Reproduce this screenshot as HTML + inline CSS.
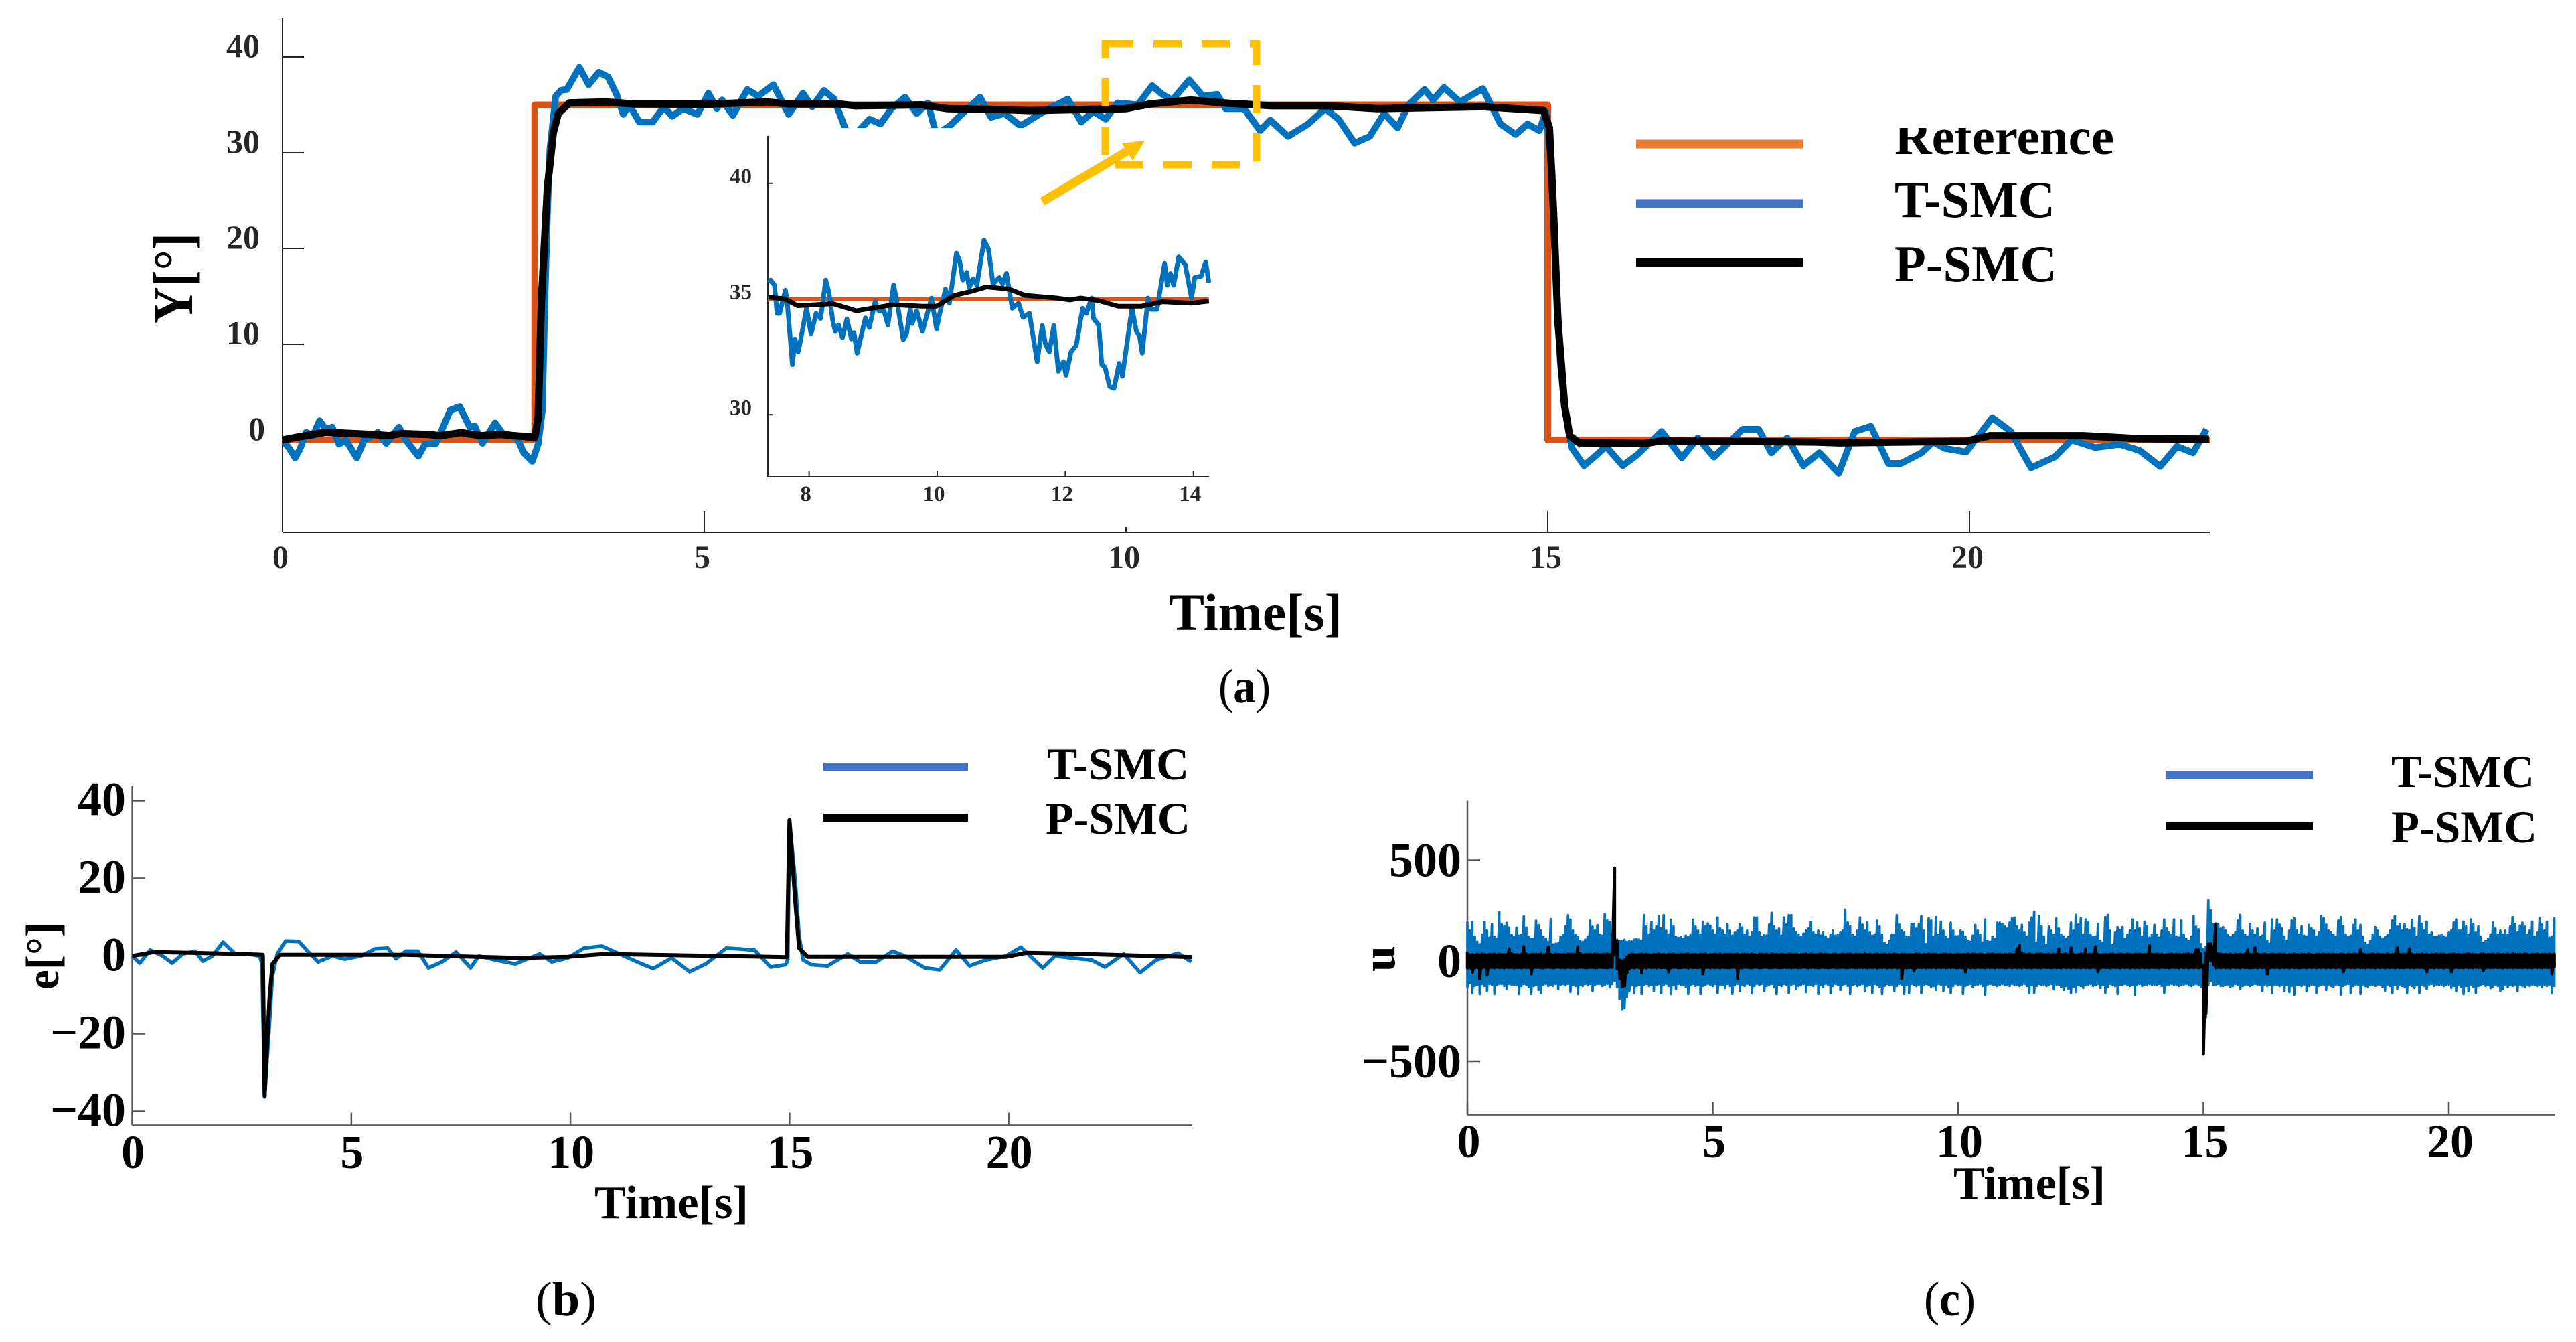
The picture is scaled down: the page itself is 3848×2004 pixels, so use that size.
<!DOCTYPE html>
<html lang="en">
<head>
<meta charset="utf-8">
<title>T-SMC vs P-SMC response charts</title>
<style>
html,body{margin:0;padding:0;background:#fff;}
svg{display:block;}
text{font-family:"Liberation Serif",serif;font-weight:bold;fill:#000;}
tspan.paren{font-weight:normal;}
</style>
</head>
<body>
<svg id="figure" xmlns="http://www.w3.org/2000/svg" width="3848" height="2004" viewBox="0 0 3848 2004">
<rect x="0" y="0" width="3848" height="2004" fill="#fff"/>
<g id="panel-a"></g>
<g id="panel-b"></g>
<g id="panel-c"></g>

<g>
<text transform="translate(287,483) rotate(-90)" font-size="84" textLength="135" lengthAdjust="spacingAndGlyphs">Y[°]</text>
<text x="1746" y="941" font-size="78" textLength="259" lengthAdjust="spacingAndGlyphs">Time[s]</text>
<text x="1820" y="1049" font-size="72" textLength="78" lengthAdjust="spacingAndGlyphs"><tspan class="paren">(</tspan>a<tspan class="paren">)</tspan></text>
<line x1="2444" x2="2693" y1="215" y2="215" stroke="#ED7D31" stroke-width="13"/>
<line x1="2444" x2="2693" y1="304" y2="304" stroke="#4472C4" stroke-width="13"/>
<line x1="2444" x2="2693" y1="392" y2="392" stroke="#000" stroke-width="13"/>
<text x="2830" y="230" font-size="77" textLength="328" lengthAdjust="spacingAndGlyphs">Reference</text>
<rect x="2800" y="150" width="400" height="41" fill="#fff"/>
<text x="2830" y="324" font-size="77" textLength="240" lengthAdjust="spacingAndGlyphs">T-SMC</text>
<text x="2830" y="420" font-size="77" textLength="243" lengthAdjust="spacingAndGlyphs">P-SMC</text>
<rect x="1651" y="65" width="226" height="181" fill="none" stroke="#FFC000" stroke-width="11" stroke-dasharray="42 30"/>
<line x1="1557" y1="301" x2="1690" y2="222" stroke="#FFC000" stroke-width="13"/>
<polygon points="1710,210 1676,214 1692,240" fill="#FFC000"/>
</g>

<g>
<text transform="translate(87,1478) rotate(-90)" font-size="70" textLength="101" lengthAdjust="spacingAndGlyphs">e[°]</text>
<text x="888" y="1819" font-size="70" textLength="230" lengthAdjust="spacingAndGlyphs">Time[s]</text>
<text x="800" y="1964" font-size="72" textLength="91" lengthAdjust="spacingAndGlyphs"><tspan class="paren">(</tspan>b<tspan class="paren">)</tspan></text>
<line x1="1230" x2="1446" y1="1145" y2="1145" stroke="#4472C4" stroke-width="12"/>
<line x1="1230" x2="1446" y1="1221" y2="1221" stroke="#000" stroke-width="12"/>
<text x="1564" y="1164" font-size="68" textLength="212" lengthAdjust="spacingAndGlyphs">T-SMC</text>
<text x="1562" y="1245" font-size="68" textLength="216" lengthAdjust="spacingAndGlyphs">P-SMC</text>
</g>

<g>
<text transform="translate(2083,1451) rotate(-90)" font-size="70">u</text>
<text x="2918" y="1790" font-size="70" textLength="227" lengthAdjust="spacingAndGlyphs">Time[s]</text>
<text x="2874" y="1964" font-size="72" textLength="77" lengthAdjust="spacingAndGlyphs"><tspan class="paren">(</tspan>c<tspan class="paren">)</tspan></text>
<line x1="3236" x2="3455" y1="1157" y2="1157" stroke="#4472C4" stroke-width="12"/>
<line x1="3236" x2="3455" y1="1234" y2="1234" stroke="#000" stroke-width="12"/>
<text x="3572" y="1175" font-size="68" textLength="214" lengthAdjust="spacingAndGlyphs">T-SMC</text>
<text x="3572" y="1258" font-size="68" textLength="218" lengthAdjust="spacingAndGlyphs">P-SMC</text>
</g>
</svg>

<script>
/* ---------- Panel (a): Y response ---------- */
const refTime=[0,2.99,2.99,15,15,22.85];
const refValue=[0,0,35,35,0,0];

const aTSmcTime=[0.02,0.08,0.15,0.21,0.28,0.36,0.44,0.51,0.59,0.67,0.75,0.88,0.97,1.13,1.23,1.38,1.46,1.61,1.69,1.82,1.99,2.10,2.22,2.28,2.37,2.52,2.61,2.78,2.86,2.96,3.03,3.08,3.11,3.14,3.17,3.24,3.30,3.37,3.52,3.63,3.75,3.86,3.96,4.04,4.11,4.23,4.39,4.52,4.62,4.75,4.92,5.05,5.15,5.21,5.34,5.51,5.64,5.82,6.00,6.17,6.28,6.42,6.54,6.69,6.79,6.96,7.09,7.22,7.38,7.52,7.65,7.75,7.91,8.04,8.27,8.40,8.56,8.75,8.99,9.13,9.31,9.47,9.61,9.76,9.90,10.14,10.31,10.43,10.55,10.75,10.91,11.08,11.18,11.40,11.59,11.71,11.92,12.16,12.36,12.52,12.71,12.89,13.06,13.22,13.35,13.54,13.64,13.77,13.96,14.23,14.44,14.62,14.76,14.90,14.98,15.05,15.10,15.15,15.20,15.29,15.43,15.58,15.69,15.89,16.06,16.35,16.59,16.78,16.97,17.31,17.50,17.65,17.84,18.03,18.22,18.45,18.64,18.83,19.04,19.19,19.43,19.57,19.71,19.96,20.27,20.49,20.73,21.01,21.21,21.49,21.78,22.02,22.26,22.46,22.65,22.81];
const aTSmcValue=[-0.22,-0.89,-1.87,-0.89,0.80,0.45,2.01,1.12,1.34,-0.45,0,-1.87,0,0.80,-0.36,1.34,0,-1.69,-0.45,-0.36,3.12,3.48,1.34,1.43,-0.36,1.78,0.67,0.22,-1.34,-2.23,-0.45,3.12,14.7,23.6,30.3,35.9,36.5,36.6,38.9,37.1,38.4,37.9,36.1,34.0,35.0,33.2,33.2,34.8,33.8,34.6,34.0,36.2,34.6,35.5,33.9,36.6,35.9,37.1,34.0,36.2,34.8,36.5,35.6,32.1,31.9,33.5,33.0,34.6,35.8,34.1,35.2,31.9,32.8,33.9,35.8,33.7,34.1,32.8,34.1,34.8,35.6,33.2,34.3,33.5,35.2,35.0,37.0,36.1,35.5,37.6,35.9,36.1,34.6,34.6,32.3,33.4,31.7,33.0,34.6,33.5,31.0,31.7,34.1,32.6,35.0,36.6,35.5,36.8,35.3,36.7,33.0,31.9,33.0,32.3,34.3,28.1,17.0,8.0,3.57,-0.89,-2.68,-1.56,-0.67,-2.68,-1.56,0.89,-1.87,0.22,-1.78,1.12,1.12,-1.34,0.22,-2.68,-1.34,-3.48,0.89,1.43,-2.45,-2.45,-1.34,-0.22,-0.89,-1.25,2.32,0.89,-2.90,-1.78,0,-0.80,-0.45,-1.12,-2.77,-0.67,-1.34,1.12];

const aPSmcTime=[0,0.21,0.51,1.07,1.26,1.40,1.73,1.86,2.12,2.35,2.58,2.99,3.03,3.07,3.14,3.21,3.27,3.40,3.83,4.16,5.02,5.74,6.00,6.59,6.79,7.58,7.88,8.55,8.85,10.0,10.29,10.77,11.15,11.73,12.40,12.98,14.23,14.95,15.02,15.07,15.12,15.20,15.26,15.37,16.16,16.35,18.17,18.46,19.96,20.24,21.35,22.02,22.84];
const aPSmcValue=[0,0.36,0.80,0.58,0.45,0.67,0.58,0.45,0.76,0.45,0.58,0.27,2.23,14.7,26.3,32.1,34.1,35.2,35.3,35.1,35.06,35.3,35.1,35.1,34.9,35.0,34.6,34.5,34.4,34.6,35.1,35.5,35.2,34.9,34.9,34.6,34.8,34.4,32.6,23.6,12.5,3.57,0.45,-0.31,-0.36,-0.09,-0.22,-0.31,-0.13,0.45,0.45,0.13,0.09];

const aXTicks=[0,5,10,15,20];
const aXTickLabels=['0','5','10','15','20'];
const aYTicks=[0,10,20,30,40];
const aYTickLabels=['0','10','20','30','40'];

/* ---------- Panel (a) inset ---------- */
const insetRefTime=[7.36,14.24];
const insetRefValue=[35,35];
const insetTSmcTime=[7.37,7.40,7.46,7.50,7.54,7.63,7.66,7.74,7.78,7.83,7.87,7.96,8.03,8.11,8.18,8.26,8.31,8.37,8.41,8.46,8.52,8.59,8.66,8.70,8.75,8.82,8.88,8.94,9.03,9.09,9.17,9.23,9.32,9.39,9.47,9.52,9.58,9.61,9.68,9.77,9.91,9.99,10.04,10.13,10.19,10.30,10.35,10.40,10.46,10.50,10.56,10.62,10.73,10.80,10.87,10.97,11.02,11.08,11.17,11.27,11.34,11.44,11.49,11.56,11.64,11.69,11.75,11.82,11.89,11.97,12.01,12.09,12.17,12.27,12.33,12.41,12.44,12.52,12.57,12.62,12.69,12.76,12.84,12.89,13.04,13.11,13.16,13.20,13.29,13.34,13.43,13.55,13.59,13.64,13.69,13.77,13.87,13.97,14.02,14.12,14.19,14.24];
const insetTSmcValue=[35.71,35.82,35.6,34.38,34.38,35.38,34.82,32.16,33.27,32.72,33.27,34.6,33.49,34.38,34.16,35.82,35.27,34.05,33.6,33.88,33.33,34.14,33.27,33.55,32.66,33.49,34.18,33.77,34.88,34.49,34.49,33.88,35.6,34.6,33.24,33.49,34.6,33.94,34.49,33.6,35.04,33.71,34.38,35.43,34.82,36.98,36.65,35.82,36.15,35.49,35.88,35.6,37.54,37.15,35.65,35.93,35.65,36.1,34.6,34.82,34.21,34.38,33.49,32.29,33.85,33.05,32.72,33.85,31.88,32.29,31.7,32.72,32.99,34.6,34.38,35.04,34.16,33.88,32.16,32.05,31.22,31.14,32.22,31.66,34.6,33.6,33.38,32.66,35.04,34.55,34.55,36.54,35.6,36.1,35.6,36.82,36.49,35.04,35.93,35.99,36.6,35.71];
const insetPSmcTime=[7.37,7.62,7.82,8.22,8.37,8.74,8.97,9.32,9.77,9.99,10.27,10.52,10.77,11.12,11.37,11.87,12.07,12.24,12.52,12.82,13.19,13.52,13.97,14.24];
const insetPSmcValue=[35.08,35.01,34.71,34.77,34.80,34.49,34.6,34.75,34.69,34.69,35.16,35.32,35.52,35.43,35.16,35.04,34.96,35.04,34.93,34.69,34.69,34.88,34.82,34.91];
const insetXTicks=[8,10,12,14];
const insetXTickLabels=['8','10','12','14'];
const insetYTicks=[30,35,40];
const insetYTickLabels=['30','35','40'];

/* ---------- Panel (b): error ---------- */
const bTSmcTime=[0,0.17,0.41,0.69,0.91,1.15,1.43,1.61,1.83,2.07,2.35,2.63,2.91,2.96,3.02,3.13,3.20,3.31,3.50,3.80,3.98,4.24,4.57,4.85,5.22,5.54,5.83,6.02,6.24,6.52,6.76,7.07,7.39,7.72,7.91,8.28,8.74,9.30,9.57,9.94,10.31,10.72,11.06,11.52,11.89,12.31,12.72,13.09,13.56,13.83,14.20,14.57,14.91,14.96,15.0,15.13,15.22,15.31,15.5,15.87,16.33,16.61,16.98,17.35,17.63,18.09,18.43,18.80,19.11,19.48,19.94,20.28,20.78,21.06,21.43,21.89,22.20,22.63,23.0,23.37,23.87,24.17];
const bTSmcValue=[0,-1.83,1.52,0,-1.83,0.51,1.22,-1.32,0,3.55,0.51,0.51,0,-2.03,-36.3,-17.3,-5.08,0.51,3.86,3.76,1.52,-1.52,0,-0.81,0,1.83,2.03,-0.71,1.22,1.22,-3.05,-1.52,1.02,-3.05,0,-1.02,-2.03,0.51,-1.52,-0.51,2.03,2.54,0.81,-1.52,-3.25,-0.51,-4.06,-2.03,2.03,1.83,1.52,-2.84,-2.24,-1.02,35.0,19.3,5.08,-1.02,-2.24,-2.54,0.51,-1.52,-1.52,1.22,0,-3.05,-3.55,1.52,-2.54,-1.02,0,2.24,-3.05,0,-0.51,-1.02,-2.84,0.51,-4.27,-1.02,0.71,-1.52];
const bPSmcTime=[0,0.5,2.54,2.98,3.02,3.13,3.20,3.37,6.24,8.83,9.94,10.78,14.94,15.0,15.13,15.22,15.41,19.94,20.41,21.43,24.19];
const bPSmcValue=[0,1.02,0.51,0.30,-36.0,-11.2,-2.03,0.30,0.30,-0.51,-0.20,0.51,-0.30,35.0,14.2,2.03,-0.20,-0.20,0.81,0.61,-0.30];
const bXTicks=[0,5,10,15,20];
const bXTickLabels=['0','5','10','15','20'];
const bYTicks=[-40,-20,0,20,40];
const bYTickLabels=['\u221240','\u221220','0','20','40'];

/* ---------- Panel (c): control input (one upper and one lower reading every 0.05 s) ---------- */
const uSampleStep=0.05;
const uTSmcHigh=[
193,150,193,120,95,82,130,193,150,115,182,120,110,241,181,170,188,165,130,120,
165,125,130,221,165,120,110,110,199,177,150,120,110,95,207,82,85,90,120,130,
171,227,205,150,127,120,99,95,105,120,199,170,150,177,130,125,232,200,193,130,
200,105,100,98,104,95,100,96,105,110,105,100,227,170,130,193,150,170,221,160,
227,150,130,204,170,120,115,120,110,125,120,130,204,170,150,130,193,170,185,175,
150,130,215,160,150,130,182,150,125,140,150,182,165,130,150,120,140,215,215,140,
120,130,125,180,238,170,150,160,125,215,180,227,227,160,140,130,120,135,150,160,
193,140,130,150,125,140,120,110,130,150,125,130,140,150,254,190,170,130,120,150,
215,180,150,190,140,125,130,199,170,130,90,80,100,130,130,227,180,150,140,120,
120,183,183,160,183,222,150,83,211,200,120,217,130,194,150,120,110,189,150,122,
122,150,144,120,100,95,125,178,150,130,90,205,100,95,120,110,189,189,183,170,
160,190,211,214,170,150,178,140,120,189,215,244,90,222,170,120,80,170,150,130,
211,160,130,120,110,120,189,150,228,180,211,130,205,190,130,120,120,183,100,90,
217,228,150,80,140,167,150,167,110,130,150,205,150,190,161,120,194,170,115,130,
178,130,115,150,205,160,140,130,205,120,115,200,130,110,100,120,222,170,156,83,
60,70,300,250,183,170,183,160,167,150,130,120,130,140,200,228,150,130,120,183,
150,130,160,120,125,189,100,85,205,150,205,180,160,120,100,150,200,211,150,130,
172,125,120,178,161,150,120,140,222,212,180,150,140,130,120,200,217,170,130,120,
125,178,205,150,178,120,90,80,100,130,167,150,120,110,120,130,150,200,222,170,
183,150,183,156,150,203,163,120,222,183,150,194,130,140,120,120,125,130,120,115,
140,150,190,205,150,150,194,170,130,205,183,140,170,120,90,100,110,130,189,160,
130,150,130,150,130,170,217,183,140,175,189,170,130,150,194,120,140,211,180,150,
194,115,120,211];
const uTSmcLow=[
-130,-110,-160,-125,-120,-165,-115,-125,-150,-115,-120,-165,-120,-115,-115,-125,-140,-115,-120,-120,
-120,-165,-125,-115,-120,-130,-165,-125,-120,-145,-160,-120,-115,-125,-120,-125,-115,-140,-120,-115,
-120,-115,-155,-120,-125,-165,-120,-125,-115,-120,-115,-150,-120,-115,-115,-125,-120,-115,-130,-115,
-100,-130,-190,-240,-234,-180,-150,-120,-160,-125,-120,-165,-120,-115,-125,-120,-150,-120,-115,-160,
-120,-115,-125,-165,-120,-140,-115,-120,-120,-130,-165,-120,-115,-125,-120,-165,-125,-120,-115,-120,
-125,-115,-160,-120,-120,-135,-115,-125,-165,-120,-115,-150,-120,-125,-115,-120,-160,-125,-115,-120,
-115,-150,-125,-120,-115,-130,-165,-120,-125,-115,-120,-160,-120,-115,-140,-125,-120,-115,-155,-120,
-120,-125,-115,-165,-120,-130,-115,-120,-160,-125,-115,-120,-145,-120,-115,-125,-165,-120,-115,-125,
-120,-115,-150,-125,-120,-160,-115,-120,-130,-165,-125,-115,-120,-120,-150,-125,-115,-120,-165,-120,
-160,-115,-120,-125,-118,-160,-120,-115,-120,-130,-125,-145,-115,-120,-150,-118,-130,-160,-125,-115,
-120,-118,-165,-125,-120,-115,-130,-120,-118,-115,-125,-168,-120,-115,-120,-118,-125,-120,-115,-120,
-118,-125,-115,-120,-118,-125,-120,-115,-125,-160,-120,-160,-125,-115,-120,-118,-125,-120,-115,-140,
-118,-120,-130,-145,-125,-140,-160,-130,-155,-120,-125,-135,-120,-118,-115,-125,-120,-115,-135,-120,
-160,-130,-115,-120,-125,-165,-118,-120,-115,-120,-125,-120,-168,-118,-115,-125,-120,-118,-115,-120,
-118,-120,-115,-125,-160,-120,-118,-115,-120,-118,-125,-120,-118,-115,-120,-125,-118,-115,-120,-130,
-150,-280,-120,-100,-120,-118,-115,-125,-125,-120,-118,-130,-125,-115,-118,-140,-125,-120,-118,-125,
-120,-115,-118,-120,-150,-118,-125,-120,-160,-118,-120,-125,-118,-150,-120,-155,-125,-168,-118,-120,
-125,-118,-150,-125,-118,-120,-160,-125,-118,-120,-145,-118,-125,-130,-118,-120,-168,-125,-118,-115,
-160,-125,-118,-120,-165,-118,-125,-130,-120,-118,-125,-118,-120,-130,-150,-118,-125,-160,-120,-140,
-118,-125,-130,-160,-118,-125,-135,-120,-160,-118,-125,-140,-118,-115,-125,-118,-120,-118,-125,-120,
-118,-135,-125,-150,-118,-130,-165,-125,-150,-118,-130,-160,-125,-118,-115,-125,-120,-135,-130,-118,
-125,-150,-140,-118,-130,-120,-125,-118,-150,-118,-125,-130,-118,-125,-118,-120,-125,-118,-130,-118,
-125,-118,-160,-130];
const uPSmcHigh=[
45,30,32,28,34,30,35,32,30,33,32,35,30,34,32,31,33,60,35,32,
32,30,34,70,35,30,32,33,34,31,35,30,33,70,32,30,34,33,31,32,
30,35,33,34,32,70,36,30,33,32,34,31,35,33,30,32,34,35,31,32,
462,100,5,0,5,20,30,34,32,30,33,35,31,34,32,30,33,32,35,31,
33,30,34,32,35,31,30,33,32,34,35,30,32,33,31,34,32,35,30,33,
32,34,31,35,30,33,32,34,31,33,35,30,32,34,33,31,35,32,30,34,
33,31,34,30,35,32,33,31,34,32,30,35,33,31,34,30,32,33,35,31,
34,32,30,33,35,31,34,32,30,33,35,30,32,34,31,33,35,30,32,34,
33,31,35,32,34,30,33,35,31,32,34,30,33,31,35,32,30,34,33,32,
33,31,32,35,34,30,33,32,35,31,34,33,30,32,34,35,31,33,30,32,
34,31,33,32,35,30,34,33,31,35,32,30,34,33,35,31,32,34,30,33,
31,35,33,32,60,78,40,34,31,35,32,30,34,33,35,31,32,34,30,33,
33,60,32,34,35,31,65,33,30,32,34,35,60,31,33,34,70,33,30,32,
34,31,33,35,30,32,34,33,31,35,32,30,34,33,35,31,32,33,75,34,
33,35,31,34,30,32,33,35,31,34,32,30,33,34,35,31,32,55,55,35,
-20,40,85,85,70,183,35,34,32,33,31,35,30,34,32,33,31,35,55,33,
32,65,34,31,33,35,30,32,34,33,31,35,32,34,30,33,31,35,32,30,
34,33,31,35,32,30,33,34,31,35,32,33,30,34,32,31,35,33,30,34,
32,33,35,31,55,34,32,30,33,35,31,34,32,33,30,35,31,32,34,65,
33,31,35,32,60,34,30,33,32,35,31,34,30,33,32,35,31,34,33,30,
32,34,35,31,33,30,32,34,35,31,33,32,30,34,35,31,33,32,34,30,
35,32,33,31,34,30,35,33,32,34,31,35,33,30,34,32,35,31,33,34,
32,34,31,35];
const uPSmcLow=[
-35,-35,-60,-35,-33,-90,-35,-32,-70,-34,-33,-35,-32,-34,-33,-35,-32,-34,-33,-35,
-34,-33,-35,-32,-34,-33,-65,-35,-32,-33,-34,-35,-33,-32,-34,-35,-33,-32,-34,-33,
-35,-32,-34,-33,-35,-34,-32,-33,-35,-34,-32,-33,-35,-34,-32,-33,-34,-35,-32,-33,
30,-40,-90,-130,-125,-60,-40,-33,-35,-32,-34,-60,-33,-35,-32,-34,-33,-35,-32,-34,
-33,-35,-55,-34,-32,-33,-35,-34,-32,-33,-35,-32,-34,-33,-35,-32,-65,-34,-33,-35,
-32,-34,-33,-35,-32,-33,-34,-35,-32,-33,-90,-34,-35,-32,-33,-34,-35,-32,-33,-35,
-34,-32,-33,-35,-34,-32,-33,-35,-34,-32,-33,-34,-35,-32,-33,-35,-34,-32,-33,-35,
-33,-32,-34,-35,-33,-32,-34,-35,-33,-32,-34,-35,-33,-32,-34,-35,-33,-32,-34,-35,
-33,-34,-32,-35,-33,-34,-32,-35,-33,-34,-32,-35,-33,-34,-32,-35,-33,-90,-34,-35,
-33,-34,-50,-35,-33,-34,-32,-35,-33,-34,-32,-35,-33,-34,-32,-35,-33,-34,-32,-35,
-34,-33,-35,-55,-32,-34,-33,-35,-32,-34,-33,-35,-32,-34,-33,-35,-32,-34,-33,-35,
-34,-33,-35,-32,-34,-33,-35,-32,-34,-33,-35,-32,-34,-33,-35,-32,-34,-33,-35,-32,
-34,-33,-35,-32,-34,-33,-35,-32,-34,-33,-35,-32,-34,-33,-35,-32,-34,-55,-35,-32,
-34,-33,-35,-32,-34,-33,-35,-32,-34,-33,-35,-32,-34,-33,-35,-32,-34,-33,-35,-32,
-34,-33,-35,-32,-34,-33,-35,-32,-34,-33,-35,-32,-34,-33,-35,-32,-34,-33,-35,-32,
-464,-260,20,0,-20,-35,-33,-35,-32,-34,-33,-35,-32,-34,-33,-35,-32,-34,-33,-35,
-34,-33,-35,-32,-34,-33,-65,-35,-32,-34,-33,-35,-32,-34,-33,-35,-32,-34,-33,-35,
-34,-33,-35,-32,-34,-33,-35,-32,-34,-33,-35,-32,-34,-33,-35,-32,-34,-55,-35,-32,
-34,-33,-35,-32,-34,-33,-35,-32,-34,-33,-35,-32,-34,-33,-35,-32,-34,-33,-35,-32,
-34,-33,-35,-32,-34,-33,-35,-32,-34,-33,-35,-55,-34,-33,-35,-32,-34,-33,-35,-32,
-34,-55,-35,-32,-34,-33,-35,-32,-34,-33,-35,-32,-34,-33,-50,-35,-32,-34,-33,-32,
-34,-33,-35,-32,-34,-33,-35,-32,-34,-33,-35,-32,-34,-33,-35,-32,-34,-33,-35,-32,
-34,-33,-65,-35];
const cXTicks=[0,5,10,15,20];
const cXTickLabels=['0','5','10','15','20'];
const cYTicks=[-500,0,500];
const cYTickLabels=['\u2212500','0','500'];

/* ---------- Axis functions ---------- */
const aX=t=>422+126*t,        aY=v=>657-14.3*v;
const inX=t=>1208.6+95.7*(t-8), inY=v=>446.5-34.55*(v-35);
const bX=t=>197.6+65.45*t,    bY=v=>1427.5-5.8*v;
const cX=t=>2192+73.3*t,      cY=v=>1434.8-0.3005*v;

const NS='http://www.w3.org/2000/svg';
function mk(parent,tag,attrs,txt){
  const e=document.createElementNS(NS,tag);
  for(const k in attrs){e.setAttribute(k,attrs[k]);}
  if(txt!==undefined){e.textContent=txt;}
  parent.appendChild(e);
  return e;
}
function linePath(ts,vs,X,Y){
  let d='';
  for(let i=0;i<ts.length;i++){
    d+=(i?'L':'M')+X(ts[i]).toFixed(1)+' '+Y(vs[i]).toFixed(1);
  }
  return d;
}
function envelopePath(hi,lo,step,X,Y){
  let d='';
  for(let i=0;i<hi.length;i++){
    const x=X(i*step).toFixed(1);
    d+=(i?'L':'M')+x+' '+Y(hi[i]).toFixed(1)+'L'+x+' '+Y(lo[i]).toFixed(1);
  }
  return d;
}
function drawSeries(g,d,color,width,name){
  const el=mk(g,'path',{d:d,fill:'none',stroke:color,'stroke-width':width,'stroke-linejoin':'round'});
  
  
  return el;
}
function drawAxes(g,c){
  const yAxis=mk(g,'line',{x1:c.left,x2:c.left,y1:c.top,y2:c.bottom,stroke:c.color,'stroke-width':c.lw});
  
  
  const xAxis=mk(g,'line',{x1:c.left,x2:c.right,y1:c.bottom,y2:c.bottom,stroke:c.color,'stroke-width':c.lw});
  
  
  c.xTicks.forEach((v,i)=>{
    const tick=mk(g,'line',{x1:c.X(v),x2:c.X(v),y1:c.bottom,y2:c.bottom-c.tick,stroke:c.color,'stroke-width':c.lw});
    
    
    const lab=mk(g,'text',{x:c.X(v)+c.xLabelDx,y:c.xLabelY,'font-size':c.xFont,'text-anchor':'middle',style:'fill:'+c.textColor},c.xLabels[i]);
    
    
  });
  c.yTicks.forEach((v,i)=>{
    const tick=mk(g,'line',{x1:c.left,x2:c.left+c.tick,y1:c.Y(v),y2:c.Y(v),stroke:c.color,'stroke-width':c.lw});
    
    
    const nudge=(c.zeroNudge&&v===0)?c.zeroNudge:0;
    const lab=mk(g,'text',{x:c.yLabelX+nudge,y:c.Y(v)+c.yLabelDy,'font-size':c.yFont,'text-anchor':'end',style:'fill:'+c.textColor},c.yLabels[i]);
    
    
  });
}

/* ---------- Draw panel (a) ---------- */
const gA=document.getElementById('panel-a');
drawAxes(gA,{prefix:'panel-a',X:aX,Y:aY,left:422,right:3301,top:27,bottom:795,color:'#262626',lw:2,tick:32,
  xTicks:aXTicks,xLabels:aXTickLabels,yTicks:aYTicks,yLabels:aYTickLabels,xLabelDx:-3,xLabelY:848,xFont:48,
  yLabelX:388,yLabelDy:0,yFont:50,zeroNudge:8,textColor:'#262626'});
drawSeries(gA,linePath(refTime,refValue,aX,aY),'#D95319',10,'reference-line');
drawSeries(gA,linePath(aTSmcTime,aTSmcValue,aX,aY),'#0072BD',10,'t-smc-line');
drawSeries(gA,linePath(aPSmcTime,aPSmcValue,aX,aY),'#000',11,'p-smc-line');

const insetMask=mk(gA,'rect',{x:1085,y:191,width:725,height:596,fill:'#fff'});


const gIn=mk(gA,'g',{});


drawAxes(gIn,{prefix:'inset',X:inX,Y:inY,left:1147,right:1806,top:203,bottom:712,color:'#262626',lw:2,tick:8,
  xTicks:insetXTicks,xLabels:insetXTickLabels,yTicks:insetYTicks,yLabels:insetYTickLabels,xLabelDx:-5,xLabelY:748,xFont:33,
  yLabelX:1123,yLabelDy:0,yFont:33,textColor:'#262626'});
drawSeries(gIn,linePath(insetRefTime,insetRefValue,inX,inY),'#D95319',7,'inset-reference-line');
drawSeries(gIn,linePath(insetTSmcTime,insetTSmcValue,inX,inY),'#0072BD',7,'inset-t-smc-line');
drawSeries(gIn,linePath(insetPSmcTime,insetPSmcValue,inX,inY),'#000',7,'inset-p-smc-line');

/* ---------- Draw panel (b) ---------- */
const gB=document.getElementById('panel-b');
drawAxes(gB,{prefix:'panel-b',X:bX,Y:bY,left:197.6,right:1781,top:1174,bottom:1680.5,color:'#555',lw:2.5,tick:19,
  xTicks:bXTicks,xLabels:bXTickLabels,yTicks:bYTicks,yLabels:bYTickLabels,xLabelDx:1,xLabelY:1744,xFont:70,
  yLabelX:188,yLabelDy:22,yFont:72,textColor:'#000'});
drawSeries(gB,linePath(bTSmcTime,bTSmcValue,bX,bY),'#0072BD',5.5,'panel-b-t-smc-line');
drawSeries(gB,linePath(bPSmcTime,bPSmcValue,bX,bY),'#000',6,'panel-b-p-smc-line');

/* ---------- Draw panel (c) ---------- */
const gC=document.getElementById('panel-c');
drawAxes(gC,{prefix:'panel-c',X:cX,Y:cY,left:2192,right:3817,top:1195.5,bottom:1664.5,color:'#555',lw:2.5,tick:19,
  xTicks:cXTicks,xLabels:cXTickLabels,yTicks:cYTicks,yLabels:cYTickLabels,xLabelDx:2,xLabelY:1728,xFont:70,
  yLabelX:2183,yLabelDy:24,yFont:72,textColor:'#000'});
drawSeries(gC,envelopePath(uTSmcHigh,uTSmcLow,uSampleStep,cX,cY),'#0072BD',3.7,'panel-c-t-smc-line');
drawSeries(gC,envelopePath(uPSmcHigh,uPSmcLow,uSampleStep,cX,cY),'#000',4.5,'panel-c-p-smc-line');
</script>
</body>
</html>
